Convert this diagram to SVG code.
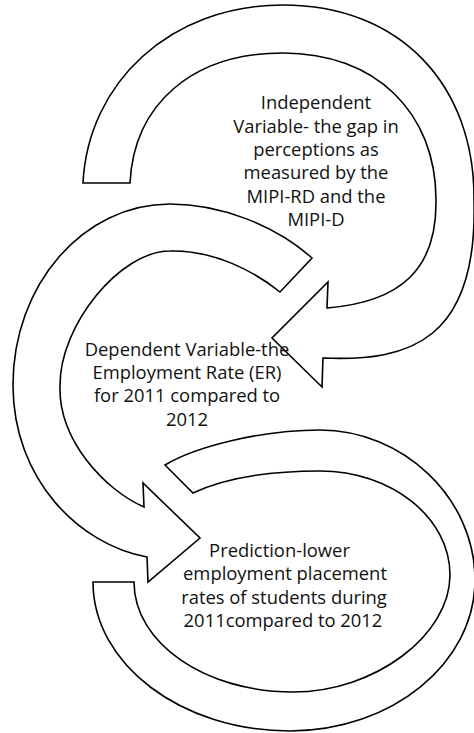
<svg xmlns="http://www.w3.org/2000/svg" width="474" height="733" viewBox="0 0 474 733">
<style>
.arr{fill:#ffffff;stroke:#000000;stroke-width:1.6;stroke-linejoin:miter}
.lbl{font-family:"Open Sans","Liberation Sans",sans-serif;font-size:18.4px;fill:#111111;text-anchor:middle}
</style>
<rect width="474" height="733" fill="#ffffff"/>
<g id="node-independent">
<path class="arr" d="M83,183 C88,83 170,5 283,5 C400,5 475,85 474,200 C478,340 410,362 323,358 L322,387 L272,338 L328,282 L327,308 C400,302 437,270 436,200 C436,112 375,53 283,53 C191,53 134,105 130,183 Z"/>
<text class="lbl"><tspan x="316" y="109.3">Independent</tspan><tspan x="316" y="132.6">Variable- the gap in</tspan><tspan x="316" y="155.9">perceptions as</tspan><tspan x="316" y="179.2">measured by the</tspan><tspan x="316" y="202.5">MIPI-RD and the</tspan><tspan x="316" y="225.8">MIPI-D</tspan></text>
</g>
<g id="node-dependent">
<path class="arr" d="M312,258 C275,225 220,204 170,204 C83,204 13,285 13,385 C13,480 80,545 147,557 L148,582 L200,538 L143,483 L144,507 C105,490 58,440 60,385 C60,325 120,251 170,251 C215,250 255,272 280,292 Z"/>
<text class="lbl"><tspan x="187" y="356">Dependent Variable-the</tspan><tspan x="187" y="379">Employment Rate (ER)</tspan><tspan x="187" y="402.3">for 2011 compared to</tspan><tspan x="187" y="425.7">2012</tspan></text>
</g>
<g id="node-prediction">
<path class="arr" d="M165,465 C195,447 260,430 320,430 C402,430 475,497 475,580 C475,663 392,731 290,731 C181,731 93,664 93,582 L134,582 C134,643 205,692 293,692 C375,692 450,635 450,575 C450,518 392,471 320,471 C270,471 225,478 193,493 Z"/>
<text class="lbl"><tspan x="279.5" y="556.7">Prediction-lower</tspan><tspan x="285" y="580">employment placement</tspan><tspan x="284" y="604">rates of students during</tspan><tspan x="283" y="626.7">2011compared to 2012</tspan></text>
</g>
<g id="connectors"></g>
</svg>
